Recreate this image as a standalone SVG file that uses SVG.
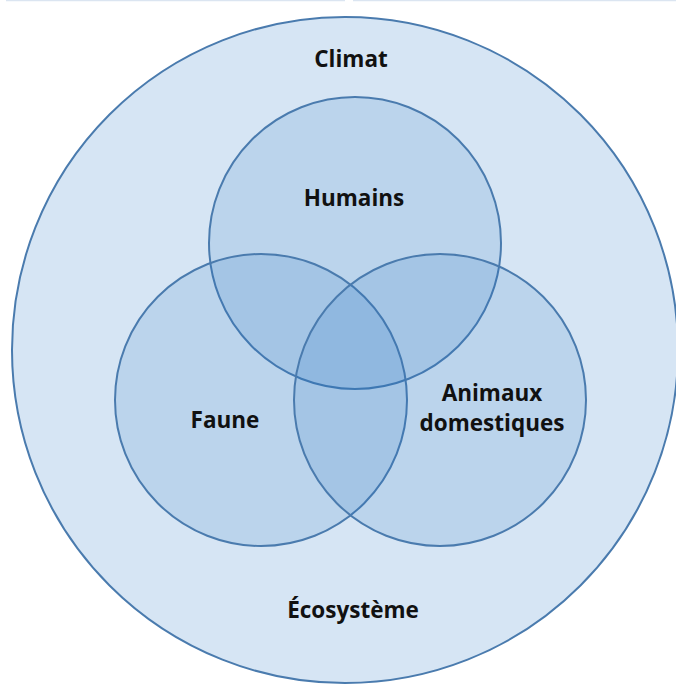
<svg xmlns="http://www.w3.org/2000/svg" width="676" height="684" viewBox="0 0 676 684">
  <style>
    .outer { fill: #d6e5f4; stroke: #4a7bae; stroke-width: 2; }
    .set { fill: #1f6fc0; fill-opacity: 0.15; stroke: #4a7bae; stroke-width: 2; }
    .label { font-family: "Open Sans", "Liberation Sans", sans-serif; font-weight: bold; font-size: 22.5px; fill: #111111; text-anchor: middle; }
  </style>
  <rect x="0" y="0" width="676" height="684" fill="#ffffff"/>
  <!-- thin header rule -->
  <line x1="6" y1="0.5" x2="345" y2="0.5" stroke="#dbe5f1" stroke-width="1.5"/>
  <line x1="353" y1="0.5" x2="676" y2="0.5" stroke="#dbe5f1" stroke-width="1.5"/>

  <g id="ecosysteme">
    <circle class="outer" cx="345" cy="350" r="333"/>
    <text class="label" x="351" y="67">Climat</text>
    <text class="label" x="353" y="618">Écosystème</text>
  </g>
  <g id="humains">
    <circle class="set" cx="355" cy="243" r="146"/>
    <text class="label" x="354" y="206">Humains</text>
  </g>
  <g id="faune">
    <circle class="set" cx="261" cy="400" r="146"/>
    <text class="label" x="225" y="428">Faune</text>
  </g>
  <g id="animaux">
    <circle class="set" cx="440" cy="400" r="146"/>
    <text class="label" x="492" y="401">Animaux</text>
    <text class="label" x="492" y="431">domestiques</text>
  </g>
  <g id="connectors"/>
</svg>
